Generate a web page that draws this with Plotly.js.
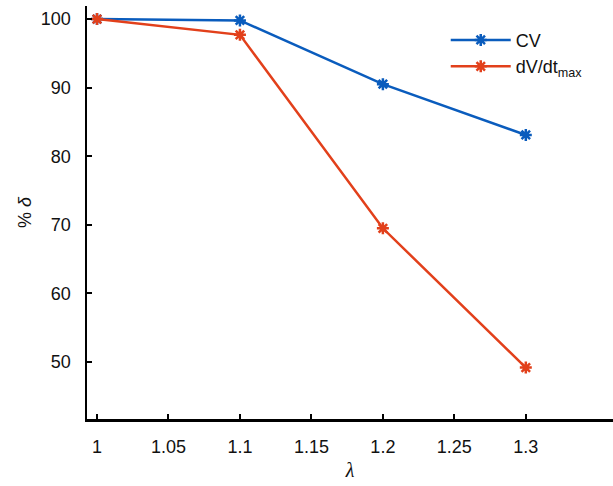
<!DOCTYPE html>
<html>
<head>
<meta charset="utf-8">
<script src="https://cdn.plot.ly/plotly-3.0.1.min.js"></script>
<style>
  html, body { margin: 0; padding: 0; background: #fff; }
  #chart { width: 613px; height: 486px; }
</style>
</head>
<body>
<div id="chart"></div>
<script>
// stretch ratio values
var lambda = [1, 1.1, 1.2, 1.3];
// percentage of baseline for each measure
var cvValues = [100, 99.8, 90.5, 83.1];
var dvdtValues = [100, 97.7, 69.5, 49.2];
// axis tick positions and labels
var xTickVals = [1, 1.05, 1.1, 1.15, 1.2, 1.25, 1.3];
var xTickText = ['1', '1.05', '1.1', '1.15', '1.2', '1.25', '1.3'];
var yTickVals = [50, 60, 70, 80, 90, 100];
var yTickText = ['50', '60', '70', '80', '90', '100'];

var blue = '#0a5cbd';
var red = '#e2401b';

var traces = [
  {
    x: lambda, y: cvValues, name: 'CV', type: 'scatter', mode: 'lines+markers',
    line: { color: blue, width: 2.5 },
    marker: { symbol: 'asterisk-open', size: 10, color: blue, line: { color: blue, width: 2.5 } }
  },
  {
    x: lambda, y: dvdtValues, name: 'dV/dt<sub>max</sub>', type: 'scatter', mode: 'lines+markers',
    line: { color: red, width: 2.5 },
    marker: { symbol: 'asterisk-open', size: 10, color: red, line: { color: red, width: 2.5 } }
  }
];

var tickFont = { family: 'Liberation Sans, Arial, sans-serif', size: 18, color: '#111' };

var layout = {
  width: 613, height: 486,
  margin: { l: 87, r: 0, t: 6, b: 67 },
  paper_bgcolor: '#fff', plot_bgcolor: '#fff',
  showlegend: true,
  legend: {
    x: 0.682, y: 0.962, xanchor: 'left', yanchor: 'top',
    bgcolor: 'rgba(0,0,0,0)', borderwidth: 0,
    font: { family: 'Liberation Sans, Arial, sans-serif', size: 18, color: '#111' },
    itemwidth: 60, tracegroupgap: 8
  },
  xaxis: {
    range: [0.993, 1.361],
    tickvals: xTickVals, ticktext: xTickText,
    showgrid: false, zeroline: false,
    showline: true, linecolor: '#000', linewidth: 2.5,
    ticks: 'inside', ticklen: 5, tickwidth: 2, tickcolor: '#000',
    tickfont: tickFont, ticklabelstandoff: 10,
    title: { text: '<i>λ</i>', font: { family: 'Liberation Serif, Times New Roman, serif', size: 20, color: '#111' }, standoff: 7 }
  },
  yaxis: {
    range: [41.7, 101.9],
    tickvals: yTickVals, ticktext: yTickText,
    showgrid: false, zeroline: false,
    showline: true, linecolor: '#000', linewidth: 2.5,
    ticks: 'inside', ticklen: 5, tickwidth: 2, tickcolor: '#000',
    tickfont: tickFont, ticklabelstandoff: 10,
    title: { text: '% <i>δ</i>', font: { family: 'Liberation Sans, Arial, sans-serif', size: 18, color: '#111' }, standoff: 5 }
  }
};

Plotly.newPlot('chart', traces, layout, { displayModeBar: false, staticPlot: true });
</script>
</body>
</html>
